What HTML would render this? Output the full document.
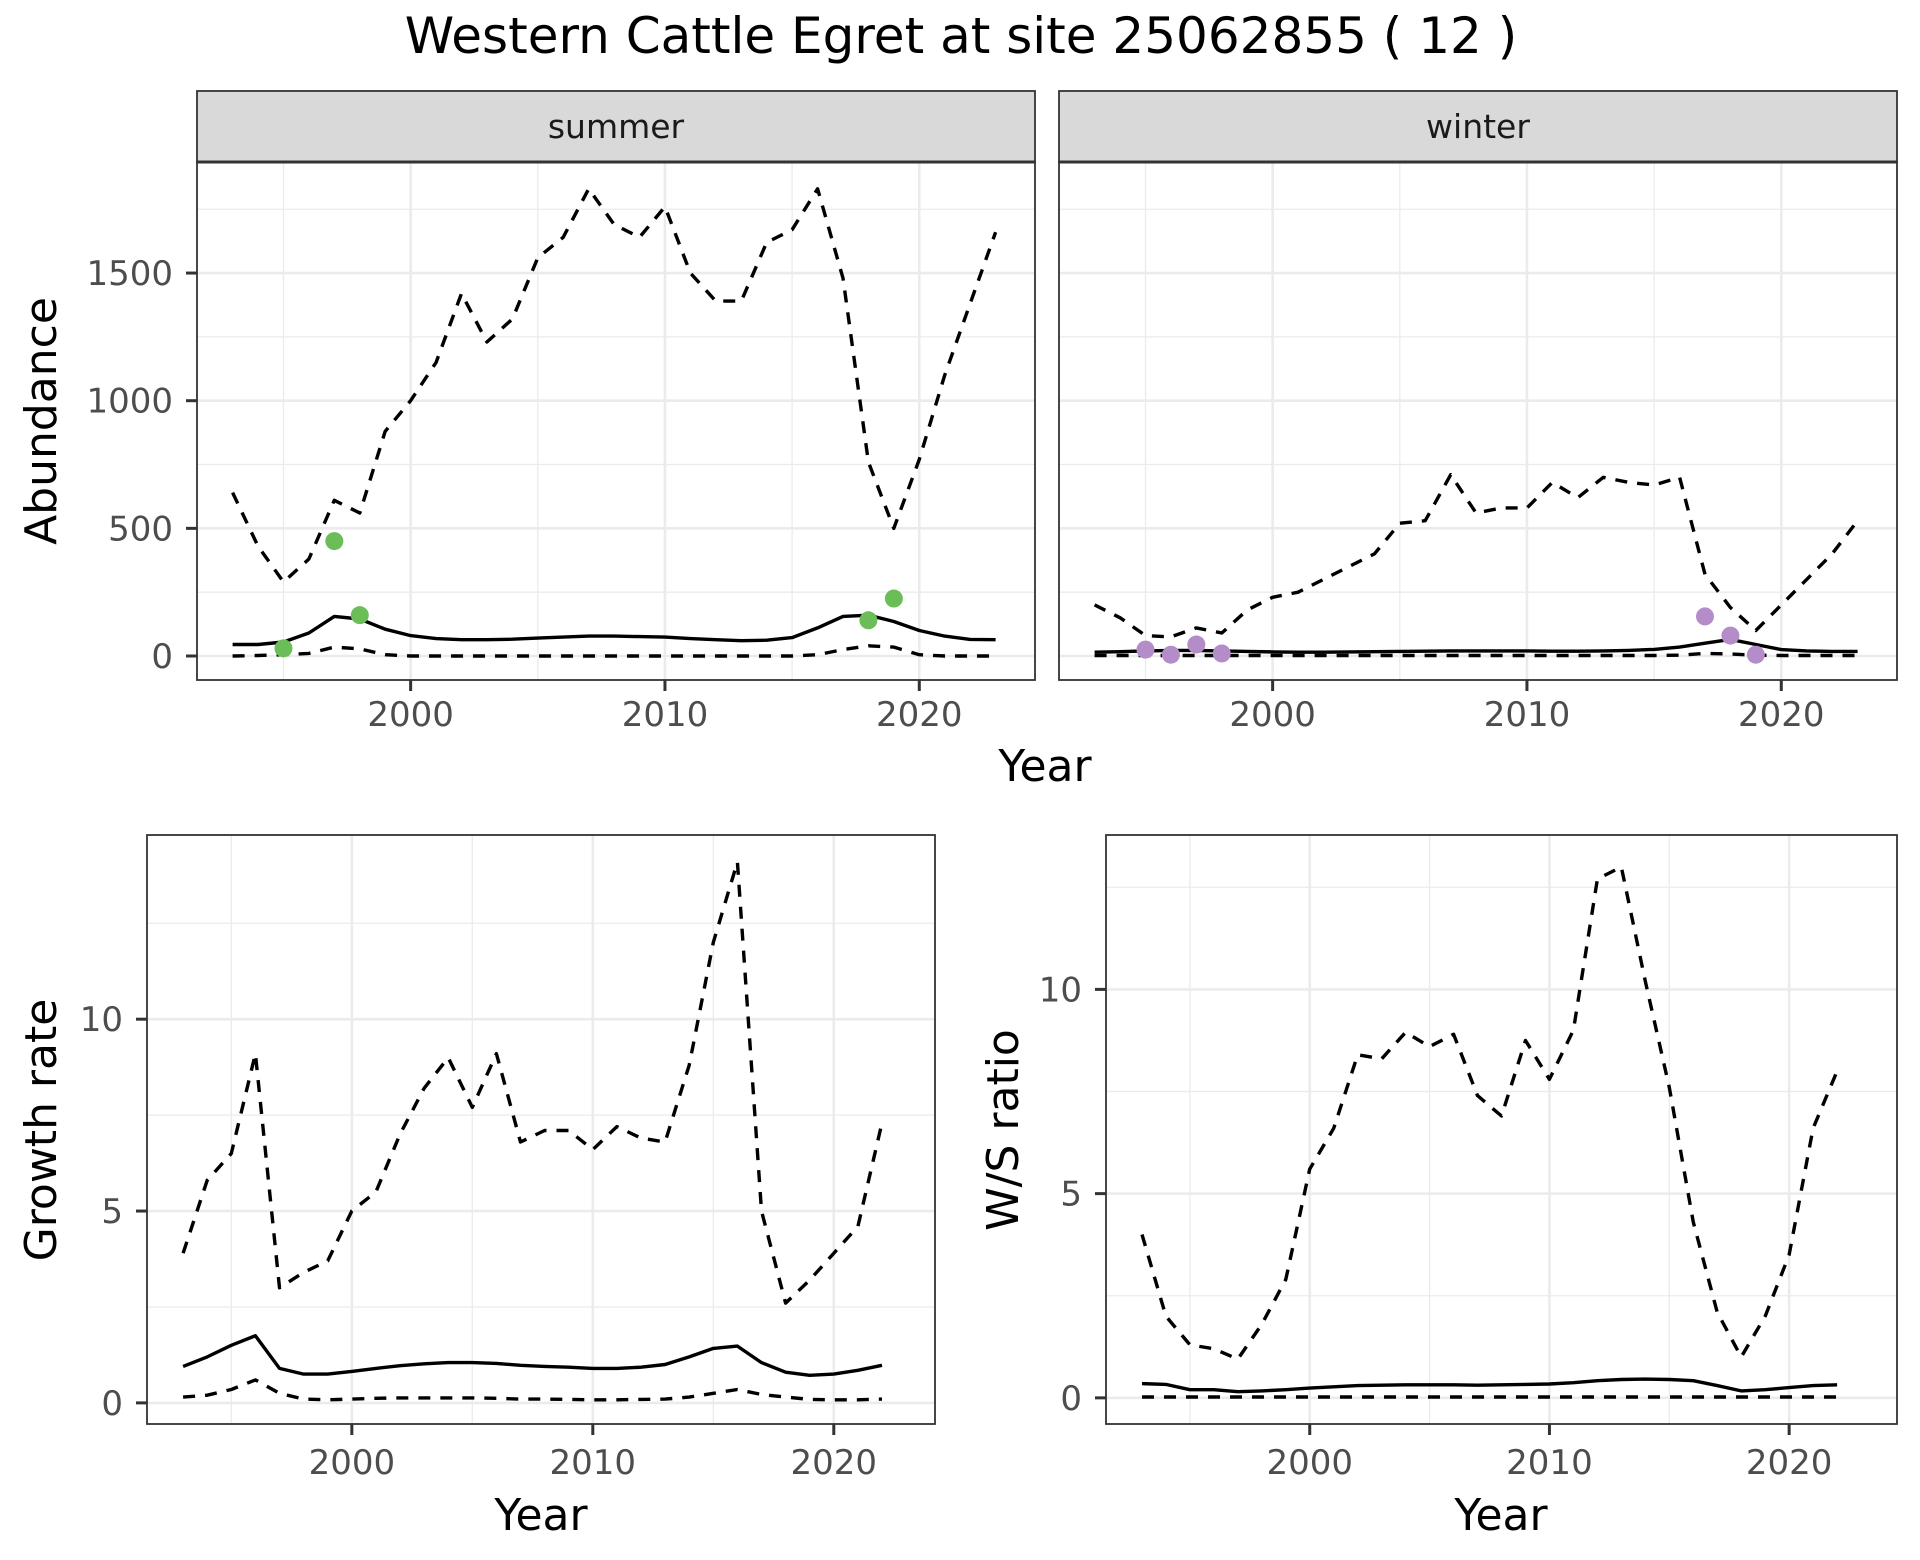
<!DOCTYPE html>
<html><head><meta charset="utf-8"><style>
body{margin:0;background:#fff;}
svg{display:block;font-family:"DejaVu Sans","Liberation Sans",sans-serif;}
</style></head><body>
<svg id="c" width="1920" height="1560" viewBox="0 0 1920 1560">
<text x="961" y="53" font-size="50" text-anchor="middle" fill="#000">Western Cattle Egret at site 25062855 ( 12 )</text>
</svg>
<script>
const yearsA = [1993,1994,1995,1996,1997,1998,1999,2000,2001,2002,2003,2004,2005,2006,2007,2008,2009,2010,2011,2012,2013,2014,2015,2016,2017,2018,2019,2020,2021,2022,2023];
const sumUpper = [640,430,290,380,610,560,880,1000,1150,1420,1230,1320,1560,1640,1830,1690,1640,1760,1500,1390,1390,1620,1670,1830,1480,760,500,770,1100,1380,1660];
const sumMid = [45,45,55,90,155,145,105,80,68,64,64,66,70,74,78,78,76,74,68,64,60,62,72,110,155,160,135,100,78,65,64];
const sumLower = [0,2,5,10,35,28,5,0,0,0,0,0,0,0,0,0,0,0,0,0,0,0,0,5,25,40,35,5,0,0,0];
const sumPtYears = [1995,1997,1998,2018,2019];
const sumPtVals = [30,450,160,140,225];
const winUpper = [200,150,80,75,110,90,180,230,250,300,350,400,520,530,710,560,580,580,680,620,700,680,670,700,320,190,100,200,300,400,530];
const winMid = [15,17,20,22,22,20,18,16,15,15,16,17,18,19,20,20,20,20,19,19,20,22,26,35,50,65,45,25,20,18,18];
const winLower = [2,2,2,2,2,2,2,2,2,2,2,2,2,2,2,2,2,2,2,2,2,2,2,3,10,8,3,2,2,2,2];
const winPtYears = [1995,1996,1997,1998,2017,2018,2019];
const winPtVals = [25,5,45,10,155,80,5];
const yearsB = [1993,1994,1995,1996,1997,1998,1999,2000,2001,2002,2003,2004,2005,2006,2007,2008,2009,2010,2011,2012,2013,2014,2015,2016,2017,2018,2019,2020,2021,2022];
const grUpper = [3.9,5.8,6.5,9.1,3.0,3.4,3.7,5.0,5.5,7.0,8.2,9.0,7.7,9.1,6.8,7.1,7.1,6.6,7.2,6.9,6.8,8.8,12.0,14.1,5.0,2.6,3.2,3.9,4.6,7.3];
const grMid = [0.95,1.2,1.5,1.75,0.9,0.75,0.75,0.82,0.9,0.97,1.02,1.05,1.05,1.03,0.98,0.95,0.93,0.9,0.9,0.93,1.0,1.2,1.42,1.48,1.05,0.8,0.72,0.75,0.85,0.98];
const grLower = [0.15,0.2,0.35,0.6,0.25,0.1,0.08,0.1,0.12,0.13,0.13,0.13,0.13,0.12,0.1,0.1,0.09,0.08,0.08,0.09,0.1,0.15,0.25,0.35,0.22,0.15,0.09,0.08,0.08,0.1];
const wsUpper = [4.0,2.0,1.3,1.2,0.95,1.8,2.9,5.6,6.6,8.4,8.3,8.95,8.6,8.9,7.4,6.9,8.75,7.8,9.0,12.7,13.0,10.2,7.6,4.3,2.1,1.0,2.0,3.5,6.6,8.0];
const wsMid = [0.35,0.33,0.2,0.2,0.15,0.17,0.2,0.24,0.27,0.3,0.31,0.32,0.32,0.32,0.31,0.32,0.33,0.34,0.37,0.42,0.45,0.46,0.45,0.42,0.3,0.17,0.2,0.25,0.3,0.32];
const wsLower = [0.02,0.02,0.02,0.02,0.02,0.02,0.02,0.02,0.02,0.02,0.02,0.02,0.02,0.02,0.02,0.02,0.02,0.02,0.02,0.02,0.02,0.02,0.02,0.02,0.02,0.02,0.02,0.02,0.02,0.02];
const xTicks = [2000,2010,2020];
const abTicks = [0,500,1000,1500];
const grTicks = [0,5,10];
const wsTicks = [0,5,10];

const svg = document.getElementById('c');
const NS = 'http://www.w3.org/2000/svg';
function mk(tag, attrs, parent){
  const e = document.createElementNS(NS, tag);
  for (const k in attrs) e.setAttribute(k, attrs[k]);
  (parent||svg).appendChild(e);
  return e;
}
function panel(o){
  const sx = v => o.x0 + (v - o.xmin) / (o.xmax - o.xmin) * (o.x1 - o.x0);
  const sy = v => o.y1 - (v - o.ymin) / (o.ymax - o.ymin) * (o.y1 - o.y0);
  const g = mk('g', {});
  
  
  mk('rect', {x:o.x0, y:o.y0, width:o.x1-o.x0, height:o.y1-o.y0, fill:'#fff'}, g);
  for (let v = 1995; v <= o.xmax; v += 10) mk('line',{x1:sx(v),x2:sx(v),y1:o.y0,y2:o.y1,stroke:'#ebebeb','stroke-width':1.3},g);
  for (let i=0;i<o.ticks.length;i++){
    const v = o.ticks[i] + o.step/2;
    if (v < o.ymax) mk('line',{x1:o.x0,x2:o.x1,y1:sy(v),y2:sy(v),stroke:'#ebebeb','stroke-width':1.3},g);
  }
  const vm = o.ticks[0]-o.step/2; if (vm>o.ymin) mk('line',{x1:o.x0,x2:o.x1,y1:sy(vm),y2:sy(vm),stroke:'#ebebeb','stroke-width':1.3},g);
  xTicks.forEach(v => mk('line',{x1:sx(v),x2:sx(v),y1:o.y0,y2:o.y1,stroke:'#ebebeb','stroke-width':2.6},g));
  o.ticks.forEach(v => mk('line',{x1:o.x0,x2:o.x1,y1:sy(v),y2:sy(v),stroke:'#ebebeb','stroke-width':2.6},g));
  o.series.forEach(s => {
    const d = s.vals.map((v,i)=>(i?'L':'M')+sx(s.years[i]).toFixed(1)+','+sy(v).toFixed(1)).join('');
    const p = mk('path',{d:d,fill:'none',stroke:'#000','stroke-width':3.4,'stroke-dasharray':s.dash?'12,10':'none','stroke-linejoin':'round'},g);
    
    
  });
  if (o.pts){
    o.pts.years.forEach((yr,i)=>{
      const c = mk('circle',{cx:sx(yr),cy:sy(o.pts.vals[i]),r:9,fill:o.pts.color},g);
      
      
    });
  }
  mk('rect',{x:o.x0,y:o.y0,width:o.x1-o.x0,height:o.y1-o.y0,fill:'none',stroke:'#333','stroke-width':1.8},g);
  xTicks.forEach(v => {
    mk('line',{x1:sx(v),x2:sx(v),y1:o.y1,y2:o.y1+11,stroke:'#333','stroke-width':3},g);
    const t = mk('text',{x:sx(v),y:o.y1+o.xlabOff,'font-size':34,'text-anchor':'middle',fill:'#4d4d4d'},g);
    t.textContent = v;
    
    
  });
  if (o.ylabels){
    o.ticks.forEach(v => {
      mk('line',{x1:o.x0-11,x2:o.x0,y1:sy(v),y2:sy(v),stroke:'#333','stroke-width':3},g);
      const t = mk('text',{x:o.x0-24,y:sy(v)+12,'font-size':34,'text-anchor':'end',fill:'#4d4d4d'},g);
      t.textContent = v;
      
      
    });
  }
  if (o.strip){
    mk('rect',{x:o.x0,y:91,width:o.x1-o.x0,height:o.y0-91,fill:'#d9d9d9',stroke:'#333','stroke-width':1.8},g);
    mk('line',{x1:o.x0,x2:o.x1,y1:o.y0,y2:o.y0,stroke:'#333','stroke-width':3},g);
    const t = mk('text',{x:(o.x0+o.x1)/2,y:138,'font-size':33,'text-anchor':'middle',fill:'#1a1a1a'},g);
    t.textContent = o.strip;
    
    
  }
}
function label(txt,x,y,rot,name){
  const t = mk('text',{x:x,y:y,'font-size':44,'text-anchor':'middle',fill:'#000',transform:rot?`rotate(-90 ${x} ${y})`:''});
  t.textContent = txt;
  
  
}
panel({name:'summer-panel',x0:197,x1:1035,y0:162,y1:680,xmin:1991.6,xmax:2024.55,ymin:-94,ymax:1935,ticks:abTicks,step:500,ylabels:true,strip:'summer',xlabOff:46,
  series:[{years:yearsA,vals:sumUpper,dash:true,name:'summer-upper-ci'},{years:yearsA,vals:sumMid,dash:false,name:'summer-estimate'},{years:yearsA,vals:sumLower,dash:true,name:'summer-lower-ci'}],
  pts:{years:sumPtYears,vals:sumPtVals,color:'#6abd57'}});
panel({name:'winter-panel',x0:1059,x1:1897,y0:162,y1:680,xmin:1991.6,xmax:2024.55,ymin:-94,ymax:1935,ticks:abTicks,step:500,ylabels:false,strip:'winter',xlabOff:46,
  series:[{years:yearsA,vals:winUpper,dash:true,name:'winter-upper-ci'},{years:yearsA,vals:winMid,dash:false,name:'winter-estimate'},{years:yearsA,vals:winLower,dash:true,name:'winter-lower-ci'}],
  pts:{years:winPtYears,vals:winPtVals,color:'#b48cc8'}});
panel({name:'growth-panel',x0:147,x1:935,y0:835,y1:1424,xmin:1991.5,xmax:2024.2,ymin:-0.55,ymax:14.8,ticks:grTicks,step:5,ylabels:true,xlabOff:50,
  series:[{years:yearsB,vals:grUpper,dash:true,name:'growth-upper-ci'},{years:yearsB,vals:grMid,dash:false,name:'growth-estimate'},{years:yearsB,vals:grLower,dash:true,name:'growth-lower-ci'}]});
panel({name:'ratio-panel',x0:1106,x1:1897,y0:835,y1:1424,xmin:1991.5,xmax:2024.5,ymin:-0.64,ymax:13.78,ticks:wsTicks,step:5,ylabels:true,xlabOff:50,
  series:[{years:yearsB,vals:wsUpper,dash:true,name:'ratio-upper-ci'},{years:yearsB,vals:wsMid,dash:false,name:'ratio-estimate'},{years:yearsB,vals:wsLower,dash:true,name:'ratio-lower-ci'}]});
label('Year',1045,781,false,'x-axis-title-top');
label('Abundance',56,421,true,'y-axis-title-abundance');
label('Year',541,1530,false,'x-axis-title-growth');
label('Growth rate',56,1130,true,'y-axis-title-growth');
label('Year',1501,1530,false,'x-axis-title-ratio');
label('W/S ratio',1018,1130,true,'y-axis-title-ratio');
</script>
</body></html>
